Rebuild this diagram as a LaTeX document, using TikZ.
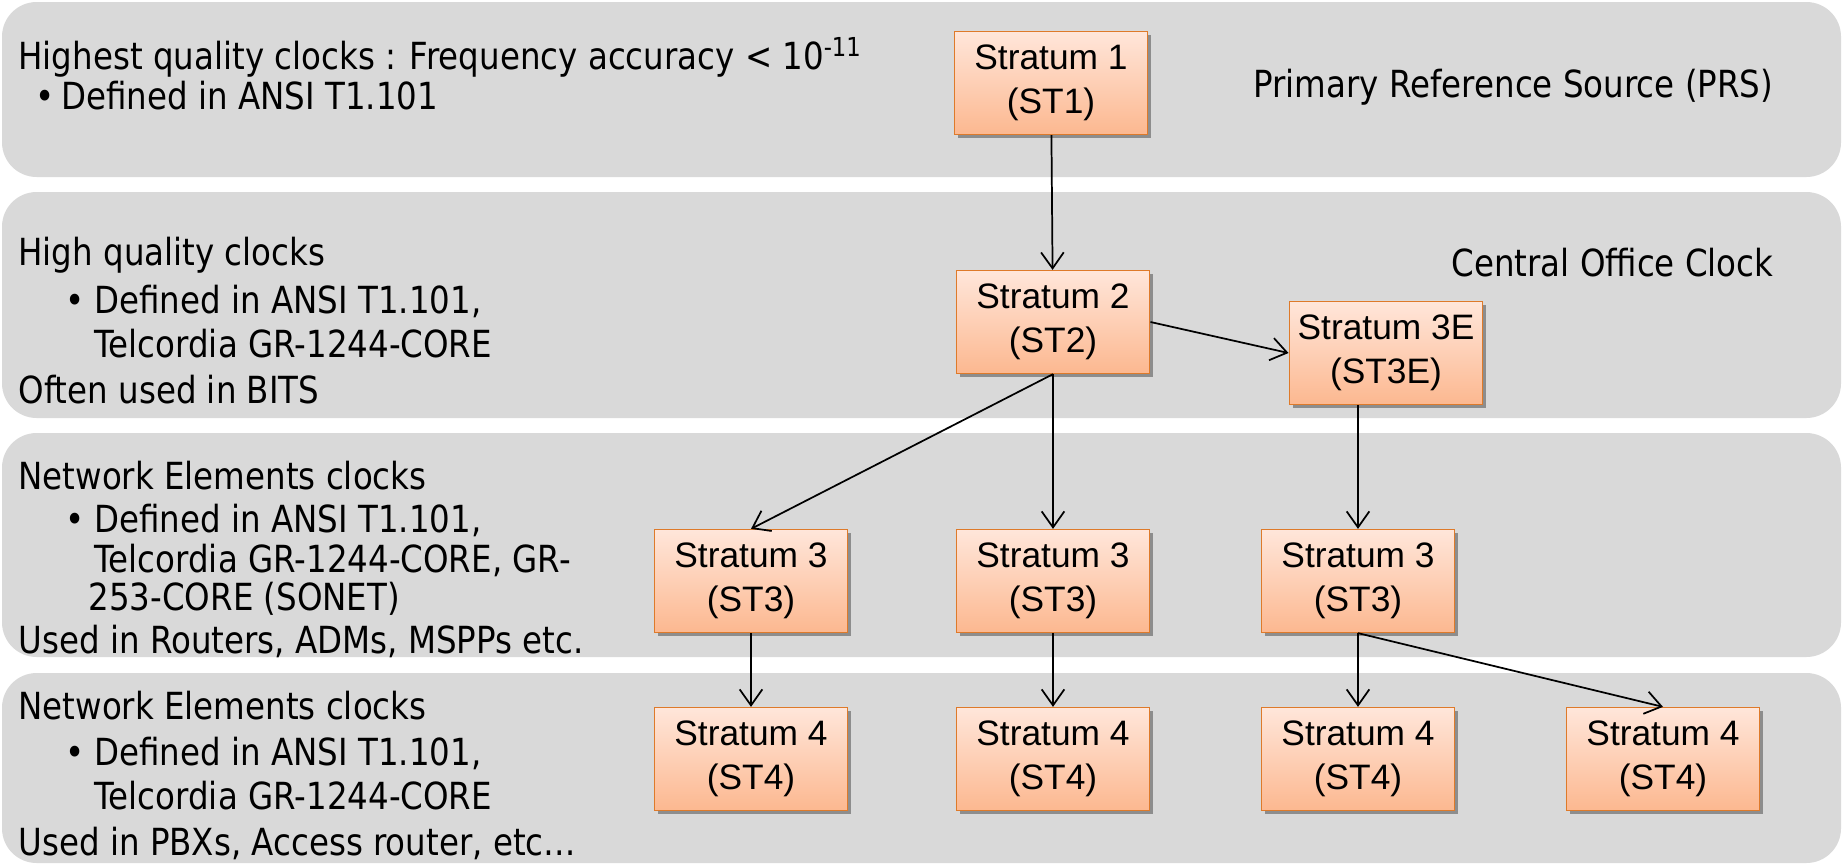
\documentclass[tikz,border=0pt]{standalone}
\usepackage{fontspec}
\setmainfont{Liberation Sans}
\newfontfamily\tahoma{DejaVu Sans}[FakeStretch=0.87]
\usetikzlibrary{arrows.meta,shadows}

\definecolor{bandgray}{RGB}{217,217,217}
\definecolor{boxtop}{RGB}{255,230,218}
\definecolor{boxbot}{RGB}{252,184,144}
\definecolor{boxedge}{RGB}{222,122,42}

\newcommand{\bul}{\makebox[21.75pt][l]{•}}

\tikzset{every picture/.style={line width=0.75pt}}
\tikzset{
  band/.style={fill=bandgray, draw=none, rounded corners=26pt},
  stratum/.style={draw=boxedge, line width=1.2pt, top color=boxtop, bottom color=boxbot,
    minimum width=145pt, minimum height=77pt, inner sep=0pt, align=center,
    font=\fontsize{26.5}{33}\selectfont,
    drop shadow={shadow xshift=2.5pt, shadow yshift=-2.5pt, opacity=0.35, fill=black}},
  note/.style={anchor=base west, inner sep=0pt, font=\tahoma\fontsize{28}{33}\selectfont},
  link/.style={-{Straight Barb[length=12pt,width=17pt]}, line width=1.3pt}
}

\begin{document}
\begin{tikzpicture}[x=0.75pt,y=0.75pt,yscale=-1,xscale=1]
\useasboundingbox (0,0) rectangle (1845,865);
%Shape: Band PRS
\fill [band] (2,2) rectangle (1841,177);
%Shape: Band central office
\fill [band] (2,192) rectangle (1841,418);
%Shape: Band ST3
\fill [band] (2,433) rectangle (1841,657);
%Shape: Band ST4
\fill [band] (2,673) rectangle (1841,863);

% Stratum boxes
\draw (1051,83) node [stratum] (s1) {Stratum 1\\(ST1)};
\draw (1053,322) node [stratum] (s2) {Stratum 2\\(ST2)};
\draw (1386,353) node [stratum] (s3e) {Stratum 3E\\(ST3E)};
\draw (751,581) node [stratum] (s3a) {Stratum 3\\(ST3)};
\draw (1053,581) node [stratum] (s3b) {Stratum 3\\(ST3)};
\draw (1358,581) node [stratum] (s3c) {Stratum 3\\(ST3)};
\draw (751,759) node [stratum] (s4a) {Stratum 4\\(ST4)};
\draw (1053,759) node [stratum] (s4b) {Stratum 4\\(ST4)};
\draw (1358,759) node [stratum] (s4c) {Stratum 4\\(ST4)};
\draw (1663,759) node [stratum] (s4d) {Stratum 4\\(ST4)};

% Arrows
\draw [link] (s1) -- (s2);
\draw [link] (s2.east) -- (s3e.west);
\draw [link] (s2.south) -- (s3a.north);
\draw [link] (s2) -- (s3b);
\draw [link] (s3e.south -| s3c.north) -- (s3c.north);
\draw [link] (s3a) -- (s4a);
\draw [link] (s3b) -- (s4b);
\draw [link] (s3c) -- (s4c);
\draw [link] (s3c.south) -- (s4d.north);

% Text Node
\draw (18,69) node [note] (t11) {Highest quality clocks : Frequency accuracy < 10\textsuperscript{-11}};
\draw (35,109) node [note] (t12) {•\hspace{5pt}Defined in ANSI T1.101};
\draw (1253,97) node [note] (prs) {Primary Reference Source (PRS)};
% Text Node
\draw (18,265) node [note] (t21) {High quality clocks};
\draw (65,313) node [note] (t22) {\bul Defined in ANSI T1.101,};
\draw (94,357) node [note] (t23) {Telcordia GR-1244-CORE};
\draw (18,403) node [note] (t24) {Often used in BITS};
\draw (1451,276) node [note] (coc) {Central Office Clock};
% Text Node
\draw (18,489) node [note] (t31) {Network Elements clocks};
\draw (65,532) node [note] (t32) {\bul Defined in ANSI T1.101,};
\draw (94,572) node [note] (t33) {Telcordia GR-1244-CORE, GR-};
\draw (88,610) node [note] (t34) {253-CORE (SONET)};
\draw (18,653) node [note] (t35) {Used in Routers, ADMs, MSPPs etc.};
% Text Node
\draw (18,719) node [note] (t41) {Network Elements clocks};
\draw (65,765) node [note] (t42) {\bul Defined in ANSI T1.101,};
\draw (94,809) node [note] (t43) {Telcordia GR-1244-CORE};
\draw (18,855) node [note] (t44) {Used in PBXs, Access router, etc…};

\end{tikzpicture}
\end{document}
